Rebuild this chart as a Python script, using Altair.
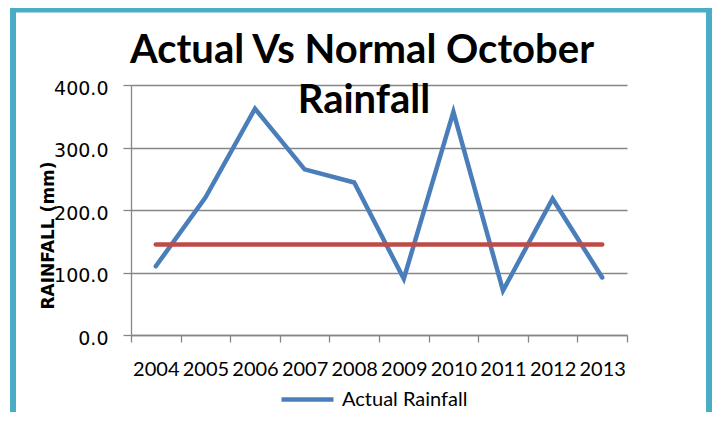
import altair as alt
import pandas as pd

YEARS = ["2004", "2005", "2006", "2007", "2008", "2009", "2010", "2011", "2012", "2013"]
ACTUAL = [110, 220, 362, 265, 244, 90, 357, 71, 218, 92]
NORMAL = [145, 145, 145, 145, 145, 145, 145, 145, 145, 145]
SERIES = ["Actual Rainfall", "Normal Rainfall"]
TITLE_LINES = ["Actual Vs Normal October", "Rainfall"]
Y_TITLE = "RAINFALL (mm)"
Y_TICKS = [0, 100, 200, 300, 400]

df = pd.DataFrame({
    "year": YEARS + YEARS,
    "value": ACTUAL + NORMAL,
    "series": [SERIES[0]] * len(YEARS) + [SERIES[1]] * len(YEARS),
})

GRID = "#868686"
BLUE = "#4A7EBB"
RED = "#BE4B48"
FRAME = "#4BACC6"

x_enc = alt.X(
    "year:N",
    sort=YEARS,
    scale=alt.Scale(type="band", paddingInner=0, paddingOuter=0),
    axis=alt.Axis(
        title=None, labelAngle=0, tickBand="extent", grid=False,
        labelFont="Lato", labelFontSize=20, labelColor="#000000", labelPadding=17, tickSize=7,
    ),
)

y_enc = alt.Y(
    "value:Q",
    scale=alt.Scale(domain=[0, 400]),
    axis=alt.Axis(
        values=Y_TICKS, format=".1f", title=Y_TITLE, grid=True,
        labelFont="DejaVu Sans", labelFontSize=19, labelColor="#000000",
        labelPadding=15, tickSize=8, labelBaseline="middle", labelOffset=3,
        titleFont="DejaVu Sans", titleFontSize=17, titleFontWeight="bold",
        titleColor="#000000", titleAngle=270, titleX=-83, titleY=150,
        titleAlign="center", titleBaseline="middle",
    ),
)

frame = alt.Chart(pd.DataFrame({"k": [0]})).mark_rect(
    filled=False, stroke=FRAME, strokeWidth=6
).encode(x=alt.value(-118), x2=alt.value(578), y=alt.value(-75.5), y2=alt.value(350))

lines = alt.Chart(df).mark_line(strokeWidth=4.5, strokeCap="round").encode(
    x=x_enc,
    y=y_enc,
    color=alt.Color(
        "series:N",
        scale=alt.Scale(domain=SERIES, range=[BLUE, RED]),
        legend=alt.Legend(
            title=None, values=[SERIES[0]], orient="none", legendX=148, legendY=286,
            symbolType="stroke", symbolSize=2704, symbolStrokeWidth=4.5,
            labelFont="Lato", labelFontSize=20, labelColor="#000000",
            labelOffset=6, padding=0,
        ),
    ),
    order=alt.Order("year:N"),
)

title1 = alt.Chart(pd.DataFrame({"t": [TITLE_LINES[0]]})).mark_text(
    font="Lato", fontSize=40, fontWeight="bold", align="center", baseline="alphabetic", color="#000000"
).encode(x=alt.value(231), y=alt.value(-22), text="t:N")

title2 = alt.Chart(pd.DataFrame({"t": [TITLE_LINES[1]]})).mark_text(
    font="Lato", fontSize=40, fontWeight="bold", align="center", baseline="alphabetic", color="#000000"
).encode(x=alt.value(233), y=alt.value(28), text="t:N")

chart = alt.layer(frame, lines, title1, title2).properties(
    width=496, height=250,
    autosize=alt.AutoSizeParams(type="none"),
    padding={"left": 123, "top": 77, "right": 85, "bottom": 77},
).configure_view(stroke=None).configure_axis(
    gridColor=GRID, gridWidth=1.3, domainColor=GRID, domainWidth=1.3, tickColor=GRID, tickWidth=1.3
)

chart.save("out.html", embed_options={"renderer": "svg", "actions": False})
